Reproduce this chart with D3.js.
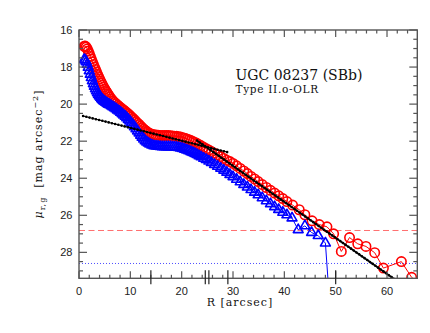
<!DOCTYPE html>
<html><head><meta charset="utf-8">
<script src="https://cdn.jsdelivr.net/npm/d3@7"></script>
<style>body{margin:0;background:#fff}svg{display:block}</style>
</head><body>
<svg id="c" width="430" height="333"></svg>
<script>
// ---------- data ----------
const profR = [1.0,1.2,1.4,1.6,1.8,2.0,2.2,2.4,2.6,2.8,3.0,3.2,3.4,3.6,3.8,4.0,4.2,4.4,4.6,4.8,5.0,5.2,5.4,5.6,5.8,6.0,
 6.3,6.6,6.9,7.2,7.5,7.8,8.1,8.4,8.7,9.0,9.3,9.6,9.9,10.2,10.5,10.8,11.1,11.4,11.7,12.0,12.3,12.6,12.9,13.2,13.5,13.8,
 14.2,14.6,15.0,15.4,15.8,16.2,16.6,17.0,17.4,17.8,18.2,18.6,19.0,19.4,19.8,20.2,20.6,21.0,21.4,21.8,22.2,22.6,23.0,23.4,23.8,
 24.3,24.8,25.3,25.8,26.4,27.0,27.6,28.2,28.8,29.4,30.0,30.7,31.4,32.1,32.8,33.5,34.2,34.9,35.7,36.5,37.3,38.1,38.9,39.7,40.5];
const redMu = [16.88,16.87,16.92,17.02,17.14,17.28,17.43,17.57,17.72,17.86,18.0,18.13,18.26,18.39,18.52,18.64,18.76,18.87,18.98,19.08,19.18,19.27,19.36,19.45,19.53,19.61,
 19.72,19.82,19.9,19.98,20.05,20.12,20.19,20.26,20.32,20.39,20.46,20.53,20.61,20.69,20.77,20.85,20.94,21.02,21.1,21.19,21.27,21.35,21.42,21.48,21.54,21.58,
 21.62,21.65,21.67,21.68,21.69,21.7,21.7,21.7,21.7,21.71,21.72,21.73,21.74,21.76,21.78,21.81,21.84,21.88,21.92,21.97,22.02,22.07,22.13,22.19,22.25,
 22.33,22.41,22.48,22.56,22.65,22.74,22.83,22.93,23.03,23.1,23.2,23.33,23.47,23.61,23.75,23.9,24.04,24.18,24.34,24.5,24.65,24.8,24.95,25.1,25.26];
const blueMu = [17.6,17.62,17.72,17.86,18.02,18.2,18.39,18.57,18.74,18.9,19.04,19.17,19.29,19.39,19.49,19.57,19.64,19.71,19.77,19.82,19.86,19.9,19.94,19.98,20.01,20.04,
 20.09,20.15,20.2,20.26,20.32,20.38,20.45,20.52,20.59,20.66,20.74,20.83,20.92,21.02,21.12,21.23,21.34,21.45,21.56,21.68,21.79,21.89,21.98,22.05,22.11,22.16,
 22.21,22.25,22.27,22.28,22.29,22.3,22.3,22.3,22.3,22.3,22.31,22.32,22.33,22.35,22.37,22.4,22.44,22.48,22.52,22.57,22.62,22.67,22.73,22.79,22.85,
 22.93,23.0,23.08,23.16,23.26,23.36,23.46,23.57,23.68,23.8,23.92,24.06,24.2,24.34,24.48,24.62,24.76,24.9,25.06,25.22,25.38,25.54,25.69,25.84,25.98];
const redOuterR  = [41.6,42.9,44.0,45.4,46.8,48.3,49.6,51.1,52.7,54.3,55.9,57.6,59.3,62.8,64.8,66.8];
const redOuterMu = [25.45,25.7,25.97,26.3,26.5,26.62,27.0,27.95,27.2,27.54,27.68,28.02,28.85,28.5,29.35,29.8];
const blueOuterR  = [41.5,42.7,44.0,45.3,46.6,48.0,49.4];
const blueOuterMu = [26.15,26.78,26.57,26.93,27.1,27.5,33.0];
const innerFitR  = [0.8, 29.0];
const innerFitMu = [20.64, 22.6];
const outerFitR  = [23.0, 66.0];
const outerFitMu = [21.97, 30.33];
const limitRed  = 26.82;
const limitBlue = 28.6;
const specialTicks = [14.0, 24.6, 25.3, 29.0, 50.0];
const xTickLabels = [0,10,20,30,40,50,60];
const yTickLabels = [16,18,20,22,24,26,28];
const titleText = "UGC 08237 (SBb)";
const typeText = "Type II.o-OLR";

// ---------- chart ----------
const svg = d3.select("#c");
const L=79, R=417.3, T=30, B=278.3;
const x = d3.scaleLinear().domain([0,65.9]).range([L,R]);
const y = d3.scaleLinear().domain([16,29.4]).range([T,B]);
const axisCol = "#555";

svg.append("defs").append("clipPath").attr("id","clip")
  .append("rect").attr("x",L).attr("y",T).attr("width",R-L).attr("height",B-T);
const plot = svg.append("g").attr("clip-path","url(#clip)");

// limit lines
plot.append("line").attr("x1",L).attr("x2",R).attr("y1",y(limitRed)).attr("y2",y(limitRed))
  .attr("stroke","#ff7070").attr("stroke-width",1).attr("stroke-dasharray","6,3.5");
plot.append("line").attr("x1",L).attr("x2",R).attr("y1",y(limitBlue)).attr("y2",y(limitBlue))
  .attr("stroke","#4f4fff").attr("stroke-width",1).attr("stroke-dasharray","1,2");

const red = profR.map((r,i)=>({r, m:redMu[i]})).concat(redOuterR.map((r,i)=>({r, m:redOuterMu[i]})));
const blue = profR.map((r,i)=>({r, m:blueMu[i]})).concat(blueOuterR.map((r,i)=>({r, m:blueOuterMu[i]})));
const line = d3.line().x(d=>x(d.r)).y(d=>y(d.m));

plot.append("path").datum(red).attr("d",line).attr("fill","none").attr("stroke","#ff0000").attr("stroke-width",1);
plot.selectAll("circle.red").data(red).join("circle").attr("class","red")
  .attr("cx",d=>x(d.r)).attr("cy",d=>y(d.m)).attr("r",4.7)
  .attr("fill","none").attr("stroke","#ff0000").attr("stroke-width",1.6);

plot.append("path").datum(blue).attr("d",line).attr("fill","none").attr("stroke","#0000ff").attr("stroke-width",1);
const tri = d3.symbol().type(d3.symbolTriangle).size(42);
plot.selectAll("path.blue").data(blue).join("path").attr("class","blue")
  .attr("transform",d=>`translate(${x(d.r)},${y(d.m)})`).attr("d",tri)
  .attr("fill","none").attr("stroke","#0000ff").attr("stroke-width",1.6).attr("stroke-linejoin","round");

// fits
const inner = innerFitR.map((r,i)=>({r, m:innerFitMu[i]}));
const outer = outerFitR.map((r,i)=>({r, m:outerFitMu[i]}));
plot.append("path").datum(inner).attr("d",line).attr("stroke","#000").attr("stroke-width",1.1).attr("fill","none");
plot.append("path").datum(inner).attr("d",line).attr("stroke","#000").attr("stroke-width",2.6)
  .attr("stroke-linecap","round").attr("stroke-dasharray","0,3.3").attr("fill","none");
plot.append("path").datum(outer).attr("d",line).attr("stroke","#000").attr("stroke-width",1.8).attr("fill","none");
plot.append("path").datum(outer).attr("d",line).attr("stroke","#000").attr("stroke-width",2.6)
  .attr("stroke-linecap","round").attr("stroke-dasharray","0,3.3").attr("fill","none");

// frame and ticks
const ax = svg.append("g").attr("stroke",axisCol).attr("stroke-width",1.2);
ax.append("rect").attr("x",L).attr("y",T).attr("width",R-L).attr("height",B-T).attr("fill","none").attr("stroke-width",1.4);
const xt = d3.range(0,66,2);
xt.forEach(v=>{
  const len = v%10===0 ? 7 : 3.5;
  ax.append("line").attr("x1",x(v)).attr("x2",x(v)).attr("y1",B).attr("y2",B-len);
  ax.append("line").attr("x1",x(v)).attr("x2",x(v)).attr("y1",T).attr("y2",T+len);
});
const yt = d3.range(16,29.41,0.5);
yt.forEach(v=>{
  const len = Math.abs(v%2)<1e-6 ? 8 : 4;
  ax.append("line").attr("x1",L).attr("x2",L+len).attr("y1",y(v)).attr("y2",y(v));
  ax.append("line").attr("x1",R).attr("x2",R-len).attr("y1",y(v)).attr("y2",y(v));
});
specialTicks.forEach(v=>{
  ax.append("line").attr("x1",x(v)).attr("x2",x(v)).attr("y1",B-8).attr("y2",B+6).attr("stroke","#222");
});

// tick labels
const lab = svg.append("g").attr("font-family","Liberation Sans, Arial, sans-serif").attr("font-size",11).attr("fill","#222");
xTickLabels.forEach(v=>lab.append("text").attr("x",x(v)).attr("y",294.5).attr("text-anchor","middle").text(v));
yTickLabels.forEach(v=>lab.append("text").attr("x",72.5).attr("y",y(v)+4).attr("text-anchor","end").text(v));

// axis titles
const serif = "DejaVu Serif, serif";
svg.append("text").attr("x",240).attr("y",306).attr("text-anchor","middle")
  .attr("font-family",serif).attr("font-size",11).attr("letter-spacing",1).attr("fill","#111").text("R [arcsec]");
const yl = svg.append("text").attr("transform","translate(42,154) rotate(-90)").attr("text-anchor","middle")
  .attr("font-family",serif).attr("font-size",11).attr("letter-spacing",1).attr("fill","#111");
yl.append("tspan").attr("font-style","italic").text("μ");
yl.append("tspan").attr("font-size",8).attr("dy",3).text("r,g");
yl.append("tspan").attr("dy",-3).text("\u00a0\u00a0[mag arcsec");
yl.append("tspan").attr("font-size",8).attr("dy",-4.5).text("−2");
yl.append("tspan").attr("dy",4.5).text("]");

svg.append("text").attr("x",235.5).attr("y",79.5).attr("font-family",serif).attr("font-size",14)
  .attr("fill","#111").text(titleText);
svg.append("text").attr("x",235.5).attr("y",92.5).attr("font-family",serif).attr("font-size",10.5)
  .attr("letter-spacing",0.7).attr("fill","#111").text(typeText);
</script>
</body></html>
